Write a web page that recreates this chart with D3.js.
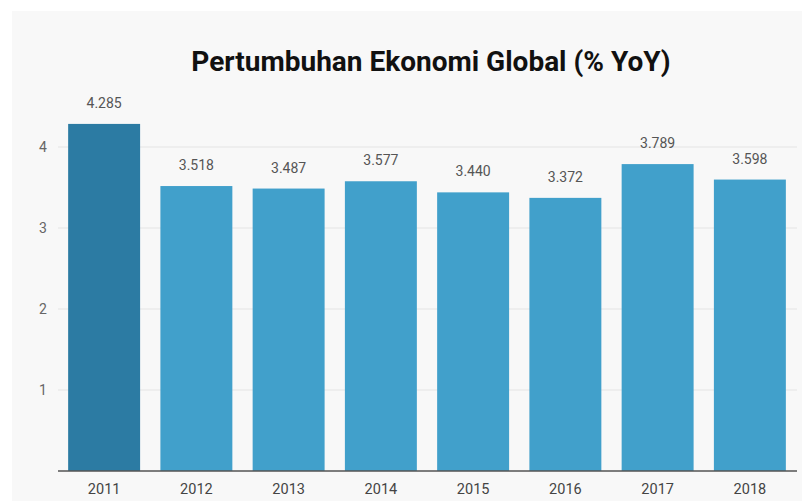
<!DOCTYPE html>
<html>
<head>
<meta charset="utf-8">
<script src="https://cdn.jsdelivr.net/npm/d3@7"></script>
<style>
    body { margin: 0; background: #fff; }
    svg { display: block; }
</style>
</head>
<body>
<div class="main"></div>
<script>
// data
var years = ["2011", "2012", "2013", "2014", "2015", "2016", "2017", "2018"];
var growth = [4.285, 3.518, 3.487, 3.577, 3.440, 3.372, 3.789, 3.598];
var yTicks = [1, 2, 3, 4];

var width = 802;
var height = 501;

var svg = d3.select("div.main")
    .append("svg")
    .attr("width", width)
    .attr("height", height)

// light gray panel
svg.append("rect")
    .attr("x", 12).attr("y", 11)
    .attr("width", width - 12).attr("height", height - 11)
    .attr("fill", "#f8f8f8")

svg.append("text")
    .attr("x", 431)
    .attr("y", 71)
    .attr("text-anchor", "middle")
    .style("font-family", "Roboto")
    .style("font-weight", "bold")
    .style("font-size", "28px")
    .attr("fill", "#111")
    .text("Pertumbuhan Ekonomi Global (% YoY)")

var x = d3.scaleBand()
    .domain(years)
    .range([58, 796])
    .paddingInner(0.22)
    .paddingOuter(0.11)

var y = d3.scaleLinear()
    .domain([0, 4])
    .range([471, 147])

// grid lines
svg.append("g").selectAll("line")
    .data(yTicks)
    .enter()
    .append("line")
    .attr("x1", 58)
    .attr("x2", 797)
    .attr("y1", d => y(d))
    .attr("y2", d => y(d))
    .style("stroke", "#e4e4e4")
    .style("stroke-width", 1)

svg.append("g").selectAll("text")
    .data(yTicks)
    .enter()
    .append("text")
    .attr("x", 43)
    .attr("y", d => y(d) + 5)
    .attr("text-anchor", "middle")
    .style("font-family", "Roboto")
    .style("font-size", "14px")
    .attr("fill", "#666")
    .text(d => d)

svg.append("g").selectAll("rect")
    .data(growth)
    .enter()
    .append("rect")
    .attr("x", (d, i) => x(years[i]))
    .attr("y", d => y(d))
    .attr("width", x.bandwidth())
    .attr("height", d => y(0) - y(d))
    .attr("fill", (d, i) => i == 0 ? "#2c7ba3" : "#41a0cb")

// value labels
svg.append("g").selectAll("text")
    .data(growth)
    .enter()
    .append("text")
    .attr("x", (d, i) => x(years[i]) + x.bandwidth() / 2)
    .attr("y", d => y(d) - 16)
    .attr("text-anchor", "middle")
    .style("font-family", "Roboto")
    .style("font-size", "14px")
    .attr("fill", "#555")
    .text(d => d.toFixed(3))

// x axis
var xAxis = svg.append("g")
    .attr("transform", "translate(0," + y(0) + ")")
    .call(d3.axisBottom(x).tickSize(0).tickPadding(13))

xAxis.select(".domain")
    .attr("d", "M58,0H797")
    .style("stroke", "#555")
    .style("stroke-width", 1.5)

xAxis.selectAll("text")
    .style("font-family", "Roboto")
    .style("font-size", "14.5px")
    .attr("fill", "#444")
</script>
</body>
</html>
